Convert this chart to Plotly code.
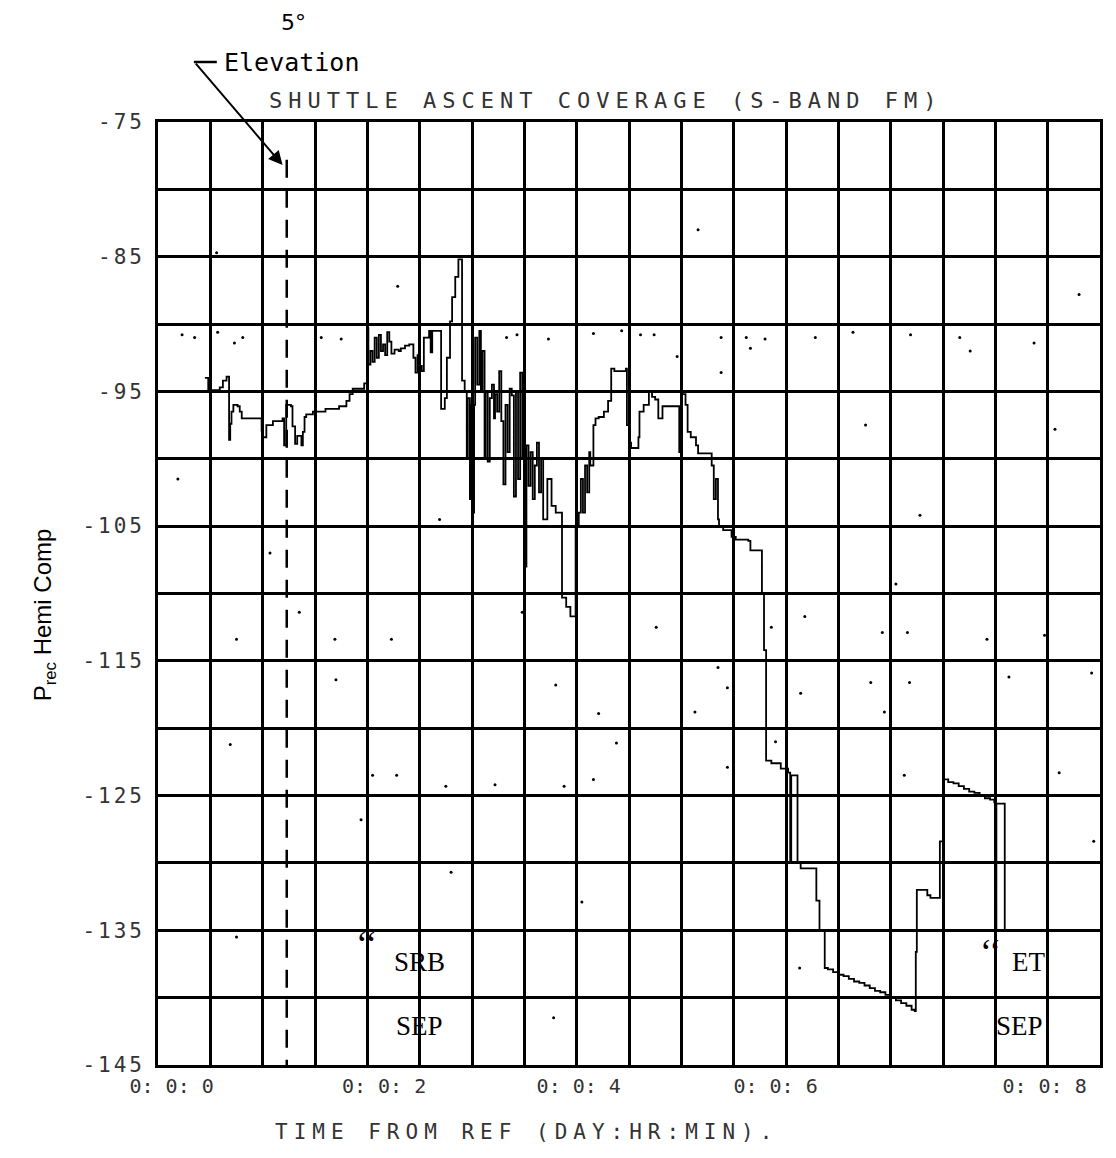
import plotly.graph_objects as go

# ---------------- data ----------------
TIME_MIN = [
    0.448, 0.48, 0.59, 0.62, 0.655, 0.679, 0.69, 0.702, 0.72, 0.76, 0.781, 0.80, 0.845,
    0.99, 1.0, 1.035, 1.098, 1.19, 1.205, 1.225, 1.27, 1.285, 1.31, 1.33, 1.37, 1.384,
    1.40, 1.416, 1.48, 1.60, 1.73, 1.80, 1.83, 1.86, 1.97,
    2.003, 2.01, 2.03, 2.05, 2.07, 2.09, 2.11, 2.13, 2.15, 2.17, 2.19, 2.21, 2.23, 2.26,
    2.30, 2.32, 2.36, 2.40, 2.44, 2.46, 2.48, 2.50, 2.52, 2.54, 2.59, 2.605, 2.62,
    2.705, 2.74, 2.76, 2.79, 2.81, 2.84, 2.87, 2.905, 2.93, 2.95, 2.96, 2.98, 2.99, 3.00,
    3.02, 3.03, 3.05, 3.07, 3.085, 3.10, 3.12, 3.13, 3.15, 3.17, 3.19, 3.21, 3.22, 3.24,
    3.26, 3.28, 3.30, 3.32, 3.34, 3.36, 3.38, 3.40, 3.42, 3.44, 3.46, 3.48, 3.50, 3.52,
    3.54, 3.56, 3.58, 3.60, 3.62, 3.64, 3.66, 3.68, 3.72, 3.76, 3.80, 3.86, 3.90, 3.94,
    3.99, 4.02, 4.04, 4.06, 4.08, 4.10, 4.12, 4.13, 4.16, 4.18, 4.21, 4.26, 4.30, 4.33,
    4.36, 4.47, 4.48, 4.50, 4.52, 4.59, 4.60, 4.64, 4.69, 4.72, 4.75, 4.78, 4.82, 4.97,
    4.98, 5.00, 5.04, 5.06, 5.09, 5.14, 5.16, 5.26, 5.29, 5.31, 5.33, 5.35, 5.36, 5.40,
    5.48, 5.52, 5.64, 5.66, 5.76, 5.77, 5.79, 5.81, 5.86, 5.95, 6.02, 6.04, 6.05, 6.11,
    6.14, 6.29, 6.32, 6.37,
    6.40, 6.45, 6.50, 6.55, 6.60, 6.65, 6.70, 6.75, 6.80, 6.85, 6.90, 6.95, 7.00, 7.05,
    7.10, 7.15, 7.20, 7.23,
    7.24, 7.25, 7.35, 7.38, 7.47, 7.50,
    7.55, 7.60, 7.65, 7.70, 7.75, 7.80, 7.85, 7.90, 7.95, 7.99, 8.0, 8.01, 8.09,
]
PREC_DB = [
    -94.0, -94.9, -94.7, -94.2, -93.9, -98.6, -97.4, -96.5, -96.0, -96.1, -96.5, -97.0, -97.0,
    -97.9, -98.4, -97.5, -97.2, -97.0, -99.0, -96.0, -96.1, -97.6, -98.9, -98.3, -99.0, -98.0,
    -96.9, -96.7, -96.5, -96.3, -96.1, -95.7, -95.2, -94.8, -94.4,
    -90.3, -93.0, -92.0, -92.8, -91.0, -92.5, -90.8, -92.0, -91.5, -92.3, -90.6, -91.3, -92.2, -91.9,
    -92.0, -91.8, -91.6, -91.5, -92.5, -93.6, -92.3, -93.1, -93.5, -91.0, -90.5, -92.1, -90.5,
    -96.3, -95.5, -92.5, -89.8, -88.0, -86.5, -85.2, -94.2, -95.0, -100.0, -95.5, -103.0, -96.0, -104.0,
    -96.0, -91.0, -94.5, -90.5, -95.0, -92.0, -100.0, -95.0, -100.2, -95.5, -94.5, -97.0, -95.2, -96.5,
    -93.5, -97.2, -101.9, -96.0, -99.5, -94.8, -95.3, -102.8, -95.0, -101.5, -93.6, -100.0, -108.0, -99.0,
    -102.0, -99.5, -103.0, -100.5, -98.8, -102.5, -100.0, -104.5, -101.5, -103.5, -104.0, -110.3, -111.0, -111.7,
    -105.0, -104.0, -101.5, -104.0, -100.5, -102.5, -99.5, -100.5, -97.5, -97.0, -96.9, -96.5, -95.7, -93.3,
    -93.5, -93.3, -97.5, -98.8, -99.2, -98.4, -96.5, -96.0, -95.0, -95.4, -95.6, -97.0, -96.1, -96.1,
    -99.5, -95.2, -96.0, -98.0, -98.4, -99.0, -99.6, -99.6, -100.5, -103.0, -101.5, -104.5, -105.0, -105.3,
    -105.8, -106.0, -106.1, -106.8, -106.8, -110.0, -114.2, -122.4, -122.6, -123.0, -123.3, -130.0, -123.5, -130.0,
    -130.4, -132.8, -135.0, -137.8,
    -137.9, -138.1, -138.3, -138.4, -138.6, -138.8, -138.9, -139.1, -139.3, -139.5, -139.6, -139.8, -140.0, -140.2,
    -140.4, -140.6, -140.9, -141.0,
    -136.6, -132.0, -132.4, -132.6, -128.4, -123.8,
    -124.0, -124.1, -124.3, -124.5, -124.7, -124.8, -125.0, -125.2, -125.3, -125.5, -135.0, -125.6, -135.0,
]

# stray plotter specks visible on the sheet
SPECK_MIN = [0.23, 0.35, 0.57, 0.73, 0.81, 1.56, 1.75, 3.33, 3.43, 3.73, 4.16, 4.43, 4.61, 4.74,
             5.38, 5.62, 5.66, 5.80, 6.28, 6.64, 7.19, 7.66, 7.76, 8.37, 0.56, 2.29, 5.16, 8.80,
             0.19, 2.69, 1.07, 0.75, 1.69, 2.23, 1.35, 3.48, 4.96, 5.38, 6.76, 8.57, 7.28, 7.05,
             6.18, 4.76, 5.86, 6.92, 7.16, 7.92, 8.47, 1.70, 3.80, 4.21, 0.69, 4.38, 2.05, 2.28,
             2.75, 3.22, 3.88, 4.16, 1.94, 2.80, 4.05, 0.75, 3.78, 5.35, 5.44, 6.14, 6.81, 7.18,
             6.94, 8.13, 8.92, 5.13, 5.90, 5.44, 7.13, 8.61, 8.94, 6.13]
SPECK_DB = [-90.8, -91.0, -90.6, -91.4, -91.0, -91.0, -91.1, -91.0, -90.8, -91.1, -90.7, -90.5, -90.8, -90.8,
            -91.0, -91.0, -91.8, -91.1, -91.0, -90.6, -90.8, -91.0, -92.0, -91.4, -84.7, -87.2, -83.0, -87.8,
            -101.5, -104.5, -107.0, -113.4, -113.4, -113.4, -111.4, -111.4, -92.4, -93.6, -97.5, -97.8, -104.2, -109.3,
            -111.7, -112.5, -112.5, -112.9, -112.9, -113.4, -113.1, -116.4, -116.8, -118.9, -121.2, -121.1, -123.5, -123.5,
            -124.3, -124.2, -124.3, -123.8, -126.8, -130.7, -132.9, -135.5, -141.5, -115.5, -117.0, -117.4, -116.6, -116.6,
            -118.8, -116.2, -115.9, -118.8, -121.0, -122.9, -123.5, -123.3, -128.4, -137.8]

ELEVATION_5DEG_MIN = 1.23
ELEV_LINE_TOP_DB = -77.8

X_RANGE = [0, 9]
Y_RANGE = [-145, -75]
Y_TICKS = [-145, -140, -135, -130, -125, -120, -115, -110, -105, -100, -95, -90, -85, -80, -75]
Y_TICKTEXT = ["-145", "", "-135", "", "-125", "", "-115", "", "-105", "", "-95", "", "-85", "", "-75"]
X_LABEL_POS = [0.13, 2.16, 4.02, 5.9, 8.47]
X_LABEL_TEXT = ["0: 0: 0", "0: 0: 2", "0: 0: 4", "0: 0: 6", "0: 0: 8"]

MONO = "DejaVu Sans Mono"
SERIF = "Liberation Serif"


def spaced(s, px):
    return '<span style="letter-spacing:%spx">%s</span>' % (px, s) if s else ""


fig = go.Figure()
fig.add_trace(go.Scatter(x=TIME_MIN, y=PREC_DB, mode="lines", line=dict(color="black", width=1.8, shape="hv"),
                         showlegend=False, hoverinfo="skip"))
fig.add_trace(go.Scatter(x=SPECK_MIN, y=SPECK_DB, mode="markers", marker=dict(color="black", size=3),
                         showlegend=False, hoverinfo="skip"))
# invisible trace carrying the label axis
fig.add_trace(go.Scatter(x=X_RANGE, y=Y_RANGE, xaxis="x2", mode="markers", marker=dict(opacity=0),
                         showlegend=False, hoverinfo="skip"))

# the page body adds an 8px margin, so the figure is 16px smaller than the window
fig.update_layout(
    width=1100, height=1142,
    margin=dict(l=150, r=5, t=114, b=85),
    paper_bgcolor="white", plot_bgcolor="white",
    xaxis=dict(range=X_RANGE, dtick=0.5, tick0=0, showgrid=True, gridcolor="black", gridwidth=2.6,
               showticklabels=False, ticks="", zeroline=False, showline=True, linecolor="black",
               linewidth=2.6, mirror=True),
    xaxis2=dict(range=X_RANGE, overlaying="x", side="bottom", anchor="y", tickmode="array",
                tickvals=X_LABEL_POS, ticktext=X_LABEL_TEXT, showgrid=False, zeroline=False, ticks="",
                ticklabelstandoff=7,
                tickfont=dict(family=MONO, size=20, color="#333")),
    yaxis=dict(range=Y_RANGE, tickmode="array", tickvals=Y_TICKS,
               ticktext=[spaced(t, 3) for t in Y_TICKTEXT], showgrid=True,
               gridcolor="black", gridwidth=2.6, zeroline=False, ticks="", showline=True,
               linecolor="black", linewidth=2.6, mirror=True, ticklabelstandoff=6,
               tickfont=dict(family=MONO, size=21, color="#333")),
)

# 5 degree elevation dashed marker
fig.add_shape(type="line", xref="x", yref="y", x0=ELEVATION_5DEG_MIN, x1=ELEVATION_5DEG_MIN,
              y0=ELEV_LINE_TOP_DB, y1=Y_RANGE[0], line=dict(color="black", width=2.5, dash="18px,12px"))


def paper_x(px):
    return (px - 158) / 945.0


def paper_y(py):
    return (1065 - py) / 943.0


def note(px, py, text, font, **kw):
    fig.add_annotation(xref="paper", yref="paper", x=paper_x(px), y=paper_y(py), showarrow=False,
                       xanchor="center", yanchor="middle", text=text, font=font, **kw)


note(607, 100, spaced("SHUTTLE ASCENT COVERAGE (S-BAND FM)", 6), dict(family=MONO, size=22, color="#333"))
note(294, 23, "5°", dict(family="DejaVu Sans", size=22, color="black"))
note(292, 62, "Elevation", dict(family=MONO, size=25, color="black"))
note(528, 1132, spaced("TIME FROM REF (DAY:HR:MIN).", 6), dict(family=MONO, size=21, color="#333"))
note(44, 615, "P<sub>rec</sub> Hemi Comp", dict(family="Liberation Sans", size=24, color="black"), textangle=-90)

fig.add_annotation(xref="x", yref="y", x=ELEVATION_5DEG_MIN - 0.04, y=-78.2, text="",
                   showarrow=True, arrowhead=2, arrowsize=1.4, arrowwidth=2, arrowcolor="black",
                   ax=-88, ay=-103)
fig.add_shape(type="line", xref="paper", yref="paper", x0=paper_x(194), x1=paper_x(217),
              y0=paper_y(62), y1=paper_y(62), line=dict(color="black", width=2.5))

for (tx, ty, label) in [(2.50, -137.35, "SRB"), (2.50, -142.1, "SEP"), (8.32, -137.35, "ET"), (8.23, -142.1, "SEP")]:
    fig.add_annotation(xref="x", yref="y", x=tx, y=ty, text=label, showarrow=False,
                       font=dict(family=SERIF, size=27, color="black"))
for (tx, ty) in [(1.99, -136.0), (7.95, -136.6)]:
    fig.add_annotation(xref="x", yref="y", x=tx, y=ty, text="‘‘", showarrow=False,
                       font=dict(family=SERIF, size=36, color="black"))

fig.write_html("out.html")
